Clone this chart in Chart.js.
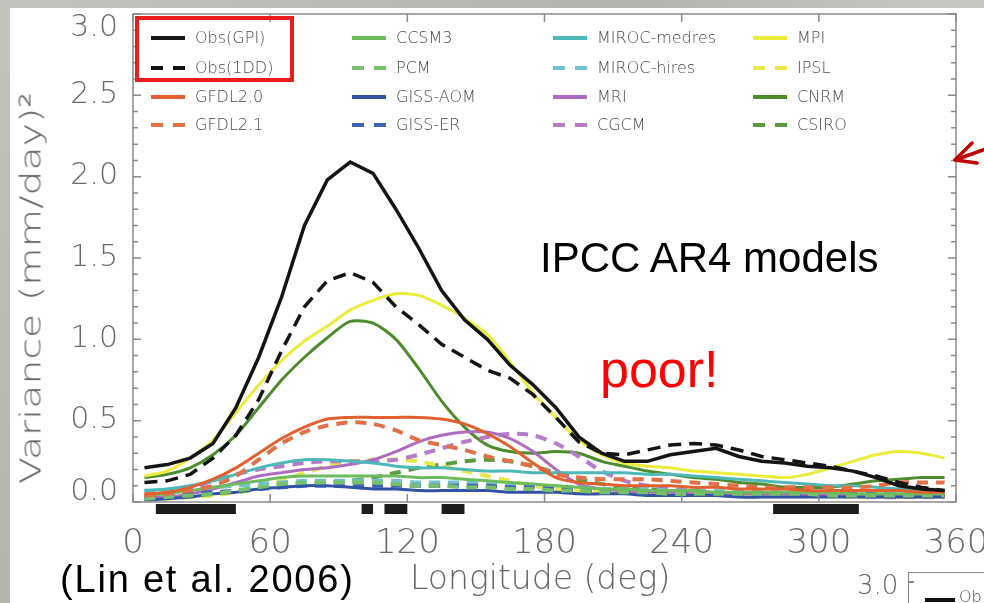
<!DOCTYPE html>
<html>
<head>
<meta charset="utf-8">
<script src="https://cdn.jsdelivr.net/npm/chart.js@4.4.1/dist/chart.umd.min.js"></script>
<style>
  html,body{margin:0;padding:0;}
  body{width:984px;height:603px;overflow:hidden;position:relative;
       background:linear-gradient(135deg,#c4c4be 0%,#b4b4ae 40%,#c8c8c2 60%,#b8b8b2 100%);}
  #panel{position:absolute;left:10px;top:8px;right:0;bottom:0;background:#fff;}
  #c{position:absolute;left:0;top:0;}
  .ov{position:absolute;white-space:nowrap;}
  .lg{position:absolute;font-family:'DejaVu Sans',sans-serif;font-weight:300;font-size:16px;color:#4a4a4a;line-height:16px;}
</style>
</head>
<body>
<div id="panel"></div>
<canvas id="c" width="984" height="603"></canvas>
<div id="legend"></div>
<div class="ov" style="left:135px;top:16px;width:151px;height:58px;border:4px solid #ea1c1c;"></div>
<div class="ov" style="left:540px;top:237px;font-family:'Liberation Sans',Arial,sans-serif;font-size:42px;line-height:42px;color:#000;">IPCC AR4 models</div>
<div class="ov" style="left:600px;top:343px;font-family:'Liberation Sans',Arial,sans-serif;font-size:52px;line-height:52px;color:#ff0000;">poor!</div>
<div class="ov" style="left:60px;top:560px;font-family:'Liberation Sans',Arial,sans-serif;font-size:38px;line-height:38px;letter-spacing:1.8px;color:#000;">(Lin et al. 2006)</div>
<div class="ov" style="left:410px;top:561px;font-family:'DejaVu Sans',sans-serif;font-weight:200;font-size:33px;line-height:33px;color:#666;">Longitude (deg)</div>
<div class="ov" id="ytitle" style="left:31px;top:288px;font-family:'DejaVu Sans',sans-serif;font-weight:200;font-size:29px;line-height:29px;color:#666;transform:translate(-50%,-50%) rotate(-90deg) scaleX(1.36);">Variance (mm/day)²</div>
<!-- second chart peeking in at the bottom right -->
<div class="ov" style="left:857px;top:572px;font-family:'DejaVu Sans',sans-serif;font-weight:200;font-size:26px;line-height:26px;color:#666;">3.0</div>
<div class="ov" style="left:908px;top:572px;width:76px;height:40px;border-left:1.5px solid #888;border-top:1.5px solid #888;"></div>
<div class="ov" style="left:908px;top:581px;width:6px;height:1.5px;background:#888;"></div>
<div class="ov" style="left:925px;top:598px;width:30px;height:4px;background:#111;"></div>
<div class="ov" style="left:959px;top:589px;font-family:'DejaVu Sans',sans-serif;font-weight:300;font-size:16px;line-height:16px;color:#444;">Ob</div>
<svg class="ov" style="left:940px;top:130px;" width="44" height="45">
  <path d="M46 19 L15 30 M15 30 L32 13 M15 30 L37 33" stroke="#c00000" stroke-width="3.5" fill="none" stroke-linecap="round"/>
</svg>
<script>
// ---------------- data ----------------
const longitudes = [5,15,25,35,45,55,65,75,85,95,105,115,125,135,145,155,165,175,185,195,205,215,225,235,245,255,265,275,285,295,305,315,325,335,345,355];

const obsGPI  = [0.21,0.23,0.27,0.36,0.58,0.89,1.26,1.70,1.98,2.09,2.02,1.80,1.56,1.30,1.12,1.00,0.84,0.72,0.58,0.40,0.30,0.25,0.25,0.29,0.31,0.33,0.28,0.25,0.24,0.22,0.21,0.19,0.15,0.10,0.08,0.07];
const obs1DD  = [0.12,0.13,0.17,0.27,0.41,0.63,0.93,1.20,1.36,1.41,1.35,1.20,1.09,0.97,0.89,0.81,0.76,0.66,0.52,0.37,0.30,0.29,0.32,0.35,0.36,0.35,0.32,0.28,0.26,0.24,0.22,0.19,0.16,0.12,0.09,0.07];
const gfdl20  = [0.05,0.06,0.09,0.14,0.21,0.30,0.39,0.46,0.51,0.52,0.52,0.52,0.52,0.51,0.48,0.42,0.34,0.24,0.15,0.12,0.11,0.10,0.10,0.10,0.09,0.09,0.08,0.08,0.08,0.07,0.07,0.07,0.07,0.07,0.06,0.06];
const gfdl21  = [0.04,0.05,0.07,0.10,0.16,0.26,0.36,0.43,0.47,0.49,0.48,0.44,0.38,0.35,0.32,0.28,0.25,0.22,0.17,0.15,0.14,0.14,0.14,0.13,0.12,0.11,0.10,0.09,0.09,0.09,0.09,0.09,0.10,0.12,0.12,0.12];
const ccsm3   = [0.04,0.05,0.07,0.09,0.11,0.13,0.15,0.16,0.16,0.16,0.16,0.16,0.15,0.15,0.14,0.13,0.12,0.11,0.10,0.09,0.08,0.08,0.07,0.07,0.07,0.06,0.06,0.06,0.06,0.06,0.06,0.05,0.05,0.05,0.05,0.05];
const pcm     = [0.02,0.03,0.04,0.05,0.07,0.09,0.11,0.12,0.12,0.12,0.12,0.11,0.10,0.10,0.09,0.09,0.08,0.08,0.07,0.07,0.06,0.06,0.06,0.05,0.05,0.05,0.05,0.05,0.05,0.05,0.04,0.04,0.04,0.04,0.04,0.04];
const gissAOM = [0.01,0.02,0.03,0.05,0.06,0.08,0.09,0.10,0.10,0.09,0.08,0.08,0.07,0.07,0.07,0.07,0.06,0.06,0.06,0.05,0.05,0.05,0.04,0.04,0.04,0.04,0.03,0.03,0.03,0.03,0.03,0.03,0.03,0.03,0.03,0.03];
const gissER  = [0.03,0.04,0.05,0.06,0.07,0.08,0.09,0.10,0.10,0.10,0.10,0.10,0.10,0.10,0.10,0.10,0.09,0.09,0.08,0.07,0.07,0.06,0.06,0.06,0.05,0.05,0.05,0.05,0.05,0.05,0.05,0.05,0.05,0.04,0.04,0.04];
const mirocMed= [0.07,0.08,0.10,0.13,0.17,0.21,0.24,0.26,0.26,0.25,0.24,0.22,0.21,0.21,0.20,0.19,0.19,0.18,0.18,0.18,0.18,0.18,0.17,0.17,0.16,0.15,0.14,0.13,0.12,0.11,0.10,0.10,0.09,0.08,0.07,0.07];
const mirocHi = [0.07,0.07,0.08,0.09,0.10,0.11,0.12,0.13,0.13,0.13,0.13,0.13,0.12,0.12,0.12,0.11,0.10,0.10,0.09,0.09,0.08,0.08,0.08,0.07,0.07,0.07,0.06,0.06,0.06,0.06,0.06,0.06,0.06,0.06,0.06,0.05];
const mri     = [0.03,0.03,0.05,0.08,0.12,0.16,0.18,0.20,0.21,0.23,0.26,0.31,0.37,0.41,0.43,0.43,0.39,0.31,0.20,0.11,0.08,0.07,0.06,0.06,0.05,0.05,0.05,0.05,0.05,0.04,0.04,0.04,0.04,0.04,0.04,0.04];
const cgcm    = [0.03,0.05,0.08,0.13,0.17,0.20,0.22,0.24,0.25,0.25,0.25,0.26,0.29,0.33,0.37,0.40,0.42,0.41,0.36,0.28,0.19,0.13,0.10,0.08,0.07,0.06,0.06,0.06,0.05,0.04,0.04,0.04,0.03,0.03,0.03,0.03];
const mpi     = [0.16,0.19,0.27,0.38,0.55,0.72,0.87,0.99,1.08,1.18,1.24,1.28,1.27,1.21,1.13,1.03,0.86,0.67,0.52,0.38,0.29,0.24,0.22,0.21,0.19,0.18,0.17,0.16,0.15,0.17,0.21,0.25,0.29,0.31,0.30,0.27];
const ipsl    = [0.02,0.02,0.03,0.04,0.06,0.09,0.13,0.18,0.22,0.25,0.26,0.26,0.25,0.22,0.19,0.16,0.13,0.10,0.08,0.07,0.06,0.06,0.05,0.05,0.05,0.05,0.04,0.04,0.04,0.04,0.04,0.03,0.03,0.03,0.03,0.03];
const cnrm    = [0.15,0.17,0.21,0.29,0.41,0.58,0.75,0.89,1.01,1.11,1.10,1.00,0.82,0.62,0.46,0.35,0.31,0.30,0.31,0.30,0.25,0.22,0.19,0.17,0.15,0.14,0.12,0.11,0.09,0.09,0.09,0.11,0.13,0.14,0.15,0.15];
const csiro   = [0.02,0.03,0.04,0.05,0.06,0.08,0.10,0.11,0.12,0.13,0.15,0.18,0.21,0.23,0.25,0.26,0.25,0.22,0.18,0.14,0.11,0.09,0.08,0.07,0.06,0.05,0.05,0.05,0.05,0.05,0.05,0.05,0.04,0.04,0.04,0.04];

const seriesNames  = ['Obs(GPI)','Obs(1DD)','GFDL2.0','GFDL2.1','CCSM3','PCM','GISS-AOM','GISS-ER','MIROC-medres','MIROC-hires','MRI','CGCM','MPI','IPSL','CNRM','CSIRO'];
const seriesValues = [obsGPI,obs1DD,gfdl20,gfdl21,ccsm3,pcm,gissAOM,gissER,mirocMed,mirocHi,mri,cgcm,mpi,ipsl,cnrm,csiro];

// significance bars below the axis (longitude ranges)
const barStart = [10,100,110,135,280];
const barEnd   = [45,105,120,145,317.5];

// tick labels
const xTickValues = [0,60,120,180,240,300,360];
const yTickValues = [0,0.5,1.0,1.5,2.0,2.5,3.0];

// ---------------- styles ----------------
const seriesColors = ['#141414','#141414','#e0602f','#e27048','#6cbb5e','#78c06c','#3252a6','#3f62b6','#4cb8b8','#72c2d0','#ad6cbf','#b57cc8','#ecec3c','#e8e84a','#4c8c2c','#5a9a3e'];
const seriesDashed = [false,true,false,true,false,true,false,true,false,true,false,true,false,true,false,true];

const datasets = seriesNames.map((n,i)=>{
  const black = i<2;
  return {
    label:n,
    data: longitudes.map((lon,k)=>({x:lon,y:seriesValues[i][k]})),
    borderColor: seriesColors[i],
    borderWidth: black ? 3.5 : (seriesDashed[i] ? 4 : 3),
    borderDash: seriesDashed[i] ? (black ? [13,8] : [11,8]) : [],
    pointRadius:0,
    tension: black ? 0 : 0.25,
    fill:false
  };
});

const tickFont = {family:"'DejaVu Sans', sans-serif", weight:'200'};

const framePlugin = {
  id:'frame',
  afterDraw(chart){
    const {ctx, chartArea:a, scales:{x,y}} = chart;
    ctx.save();
    ctx.strokeStyle='#8a8a8a';
    ctx.lineWidth=1.5;
    ctx.strokeRect(a.left,a.top,a.right-a.left,a.bottom-a.top);
    ctx.beginPath();
    for(let k=0;k<=30;k++){
      const p = y.getPixelForValue(k/10);
      const L = (k%5===0)?8:5;
      ctx.moveTo(a.left,p); ctx.lineTo(a.left+L,p);
      ctx.moveTo(a.right,p); ctx.lineTo(a.right-L,p);
    }
    xTickValues.forEach(v=>{
      const p = x.getPixelForValue(v);
      ctx.moveTo(p,a.bottom); ctx.lineTo(p,a.bottom-8);
      ctx.moveTo(p,a.top); ctx.lineTo(p,a.top+8);
    });
    ctx.stroke();
    // y tick labels (end labels kept inside the frame height)
    ctx.fillStyle='#6a6a6a';
    ctx.font="200 30px 'DejaVu Sans', sans-serif";
    ctx.textAlign='right';
    ctx.textBaseline='middle';
    yTickValues.forEach(v=>{
      let p = y.getPixelForValue(v);
      p = Math.min(Math.max(p, a.top+14), a.bottom-10);
      ctx.fillText(v.toFixed(1), a.left-15, p);
    });
    // black bars below the axis
    ctx.fillStyle='#1c1c1c';
    barStart.forEach((s,i)=>{
      const x0=x.getPixelForValue(s), x1=x.getPixelForValue(barEnd[i]);
      ctx.fillRect(x0,a.bottom+2,x1-x0,10);
    });
    ctx.restore();
  }
};

function noPad(s){ s.paddingLeft=0; s.paddingRight=0; s.paddingTop=0; s.paddingBottom=0; }

new Chart(document.getElementById('c'),{
  type:'line',
  data:{datasets},
  options:{
    responsive:false,
    animation:false,
    devicePixelRatio:1,
    layout:{autoPadding:false,padding:{left:0,top:14,right:28,bottom:0}},
    plugins:{legend:{display:false},tooltip:{enabled:false}},
    scales:{
      x:{
        type:'linear',min:0,max:360,
        afterBuildTicks:s=>{s.ticks=xTickValues.map(v=>({value:v}));},
        afterFit:s=>{s.height=101; noPad(s);},
        ticks:{font:{...tickFont,size:34},color:'#6a6a6a',padding:22,maxRotation:0,autoSkip:false},
        grid:{drawOnChartArea:false,drawTicks:false},
        border:{display:false}
      },
      y:{
        type:'linear',min:0,max:3,
        afterBuildTicks:s=>{s.ticks=yTickValues.map(v=>({value:v}));},
        afterFit:s=>{s.width=133; noPad(s);},
        ticks:{display:false},
        grid:{drawOnChartArea:false,drawTicks:false},
        border:{display:false}
      }
    }
  },
  plugins:[framePlugin]
});

// ---------------- legend (4 columns x 4 rows) ----------------
const legendColX = [151,352,553,753];
const legendRowY = [38,68,97,125];
const legend = document.getElementById('legend');
seriesNames.forEach((n,i)=>{
  const col = Math.floor(i/4), row = i%4;
  const lx = legendColX[col], ly = legendRowY[row];
  const color = seriesColors[i];
  if(seriesDashed[i]){
    [0,22].forEach(off=>{
      const d=document.createElement('div');
      d.style.cssText=`position:absolute;left:${lx+off}px;top:${ly-2}px;width:12px;height:4px;background:${color};`;
      legend.appendChild(d);
    });
  } else {
    const d=document.createElement('div');
    d.style.cssText=`position:absolute;left:${lx}px;top:${ly-2}px;width:34px;height:4px;background:${color};`;
    legend.appendChild(d);
  }
  const t=document.createElement('div');
  t.className='lg';
  t.style.left=(lx+44)+'px';
  t.style.top=(ly-8)+'px';
  t.textContent=n;
  legend.appendChild(t);
});
</script>
</body>
</html>
